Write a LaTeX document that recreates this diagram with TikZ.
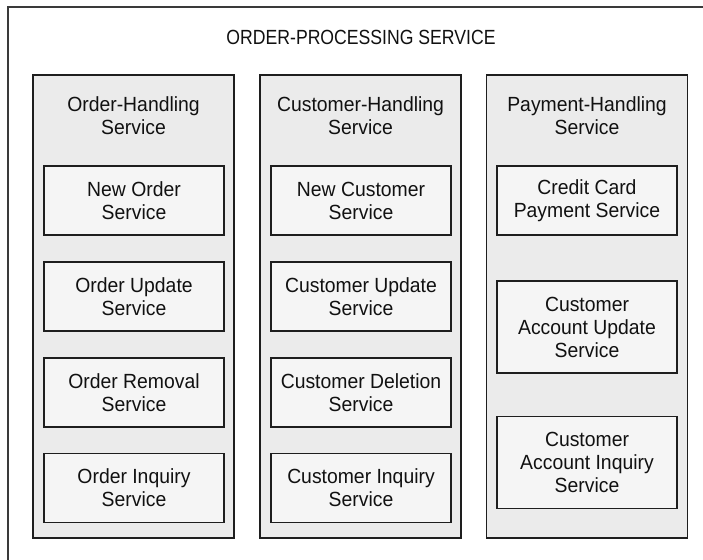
\documentclass[tikz,border=0pt]{standalone}
\usepackage{fontspec}
\setmainfont{Liberation Sans}[FakeStretch=0.945]
\newfontfamily\titlefam{Liberation Sans}[FakeStretch=0.86]
\definecolor{linec}{HTML}{1E1E1E}
\definecolor{framec}{HTML}{3A3A3A}
\definecolor{colfill}{HTML}{EBEBEB}
\definecolor{svcfill}{HTML}{F5F5F5}
\definecolor{txtc}{HTML}{111111}
\newcommand{\lblfont}{\fontsize{20.5}{23}\selectfont}
\begin{document}
\begin{tikzpicture}[x=1pt,y=-1pt,
  col/.style={draw=linec, fill=colfill, line width=1.3pt, minimum width=201pt, minimum height=463pt, inner sep=0pt},
  svc/.style={draw=linec, fill=svcfill, line width=1.3pt, minimum width=180pt, minimum height=69pt, align=center, inner sep=0pt, font=\lblfont, text=txtc},
  tallsvc/.style={svc, minimum height=92pt},
  head/.style={align=center, inner sep=0pt, font=\lblfont, text=txtc},
  titlestyle/.style={head, font=\titlefam\lblfont},
  frame/.style={draw=framec, line width=1.4pt}
]
\useasboundingbox (0,0) rectangle (703,559);
% outer frame (only top and left edges visible)
\coordinate (fbl) at (8,560);
\coordinate (ftl) at (8,7);
\coordinate (ftr) at (704,7);
\draw[frame] (fbl) -- (ftl) -- (ftr);
\node[titlestyle] (title) at (361,37) {ORDER-PROCESSING SERVICE};
% columns
\node[col] (c1) at (133.5,306.5) {};
\node[col] (c2) at (360.5,306.5) {};
\node[col] (c3) at (587,306.5) {};
\node[head] (h1) at (133.5,116) {Order-Handling\\Service};
\node[head] (h2) at (360.5,116) {Customer-Handling\\Service};
\node[head] (h3) at (587,116) {Payment-Handling\\Service};
% column 1
\node[svc] (o1) at (134,200.5) {New Order\\Service};
\node[svc] (o2) at (134,296.5) {Order Update\\Service};
\node[svc] (o3) at (134,392.5) {Order Removal\\Service};
\node[svc] (o4) at (134,488) {Order Inquiry\\Service};
% column 2
\node[svc] (u1) at (361,200.5) {New Customer\\Service};
\node[svc] (u2) at (361,296.5) {Customer Update\\Service};
\node[svc] (u3) at (361,392.5) {Customer Deletion\\Service};
\node[svc] (u4) at (361,488) {Customer Inquiry\\Service};
% column 3
\node[svc] (p1) at (587,200.5) {Credit Card\\Payment Service};
\node[tallsvc] (p2) at (587,327) {Customer\\Account Update\\Service};
\node[tallsvc] (p3) at (587,462.5) {Customer\\Account Inquiry\\Service};
\end{tikzpicture}
\end{document}
